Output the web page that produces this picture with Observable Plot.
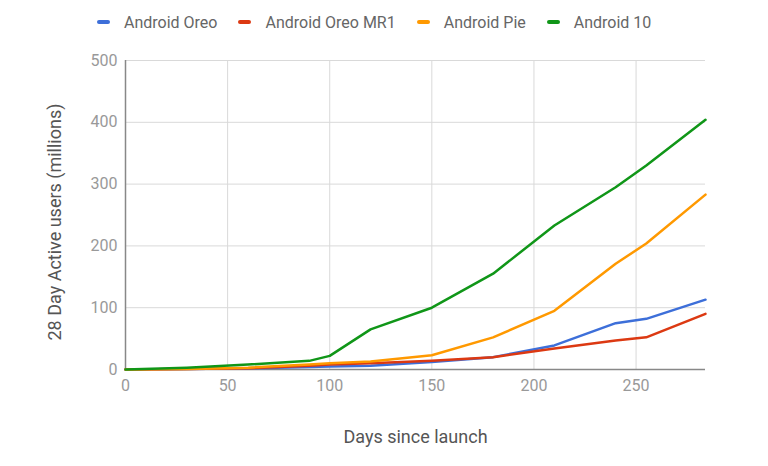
<!DOCTYPE html>
<html><head><meta charset="utf-8">
<script src="https://cdn.jsdelivr.net/npm/d3@7"></script>
<script src="https://cdn.jsdelivr.net/npm/@observablehq/plot@0.6"></script>
<style>
body{margin:0;background:#fff;font-family:Roboto,"Noto Sans",sans-serif;}
#legend{height:40px;display:flex;align-items:center;padding-left:97px;padding-top:4px;box-sizing:border-box;font-size:16px;color:#666;}
.item{display:flex;align-items:center;margin-right:21px;}
.sw{width:13px;height:4px;border-radius:2px;margin-right:14px;}
</style></head>
<body>
<div id="legend"></div>
<div id="chart"></div>
<script>
const days = [0, 30, 60, 90, 100, 120, 150, 180, 210, 240, 255, 284];
const oreo    = [0, 1, 2, 4, 5, 6, 12, 20, 39, 75, 82, 113];
const oreoMR1 = [0, 1, 2, 6, 8, 10, 14, 20, 34, 47, 52, 90];
const pie     = [0, 1, 3, 8, 10, 13, 23, 52, 95, 171, 204, 283];
const android10 = [0, 3, 8, 14, 22, 65, 100, 155, 233, 295, 330, 404];
const seriesNames = ["Android Oreo", "Android Oreo MR1", "Android Pie", "Android 10"];
const seriesValues = [oreo, oreoMR1, pie, android10];
const colors = ["#3d6fd9", "#dc3912", "#ff9900", "#109618"];
const xTicks = [0, 50, 100, 150, 200, 250];
const yTicks = [0, 100, 200, 300, 400, 500];

const data = [];
seriesNames.forEach((s, i) => days.forEach((d, j) => data.push({series: s, day: d, value: seriesValues[i][j]})));

const legend = document.getElementById("legend");
seriesNames.forEach((s, i) => {
  const it = document.createElement("div"); it.className = "item";
  const sw = document.createElement("div"); sw.className = "sw"; sw.style.background = colors[i];
  const t = document.createElement("span"); t.textContent = s;
  it.appendChild(sw); it.appendChild(t); legend.appendChild(it);
});

const chart = Plot.plot({
  width: 768, height: 426,
  marginLeft: 125, marginRight: 63, marginTop: 20, marginBottom: 97,
  style: {fontFamily: "Roboto, 'Noto Sans', sans-serif", fontSize: "16px", color: "#999"},
  x: {domain: [0, 284]},
  y: {domain: [0, 500]},
  color: {domain: seriesNames, range: colors},
  marks: [
    Plot.gridX(xTicks, {stroke: "#d9d9d9", strokeOpacity: 1}),
    Plot.gridY(yTicks, {stroke: "#d9d9d9", strokeOpacity: 1}),
    Plot.axisX({ticks: xTicks, tickSize: 0, tickPadding: 10, label: "Days since launch", labelAnchor: "center", labelArrow: "none", labelOffset: 73, fontSize: 16}),
    Plot.axisY({ticks: yTicks, tickSize: 0, tickPadding: 8, label: "28 Day Active users (millions)", labelAnchor: "center", labelArrow: "none", labelOffset: 77, fontSize: 16}),
    Plot.ruleY([0], {stroke: "#888", strokeWidth: 1.5}),
    Plot.ruleX([0], {stroke: "#888", strokeWidth: 1.5}),
    Plot.line(data, {x: "day", y: "value", stroke: "series", z: "series", strokeWidth: 2.5})
  ]
});
document.getElementById("chart").appendChild(chart);
chart.querySelectorAll("g[aria-label='x-axis label'] text, g[aria-label='y-axis label'] text").forEach(t => { t.style.fontSize = "18px"; t.style.fill = "#555"; });
const yl = chart.querySelector("g[aria-label='y-axis label']");
if (yl) yl.setAttribute("transform", "translate(0,7) " + (yl.getAttribute("transform") || ""));
</script>
</body></html>
